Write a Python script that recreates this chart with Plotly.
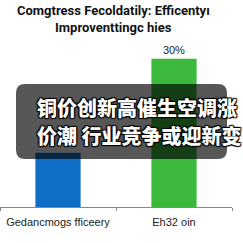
import plotly.graph_objects as go

categories = ["Gedancmogs fficeery", "Eh32 oin"]
values = [11, 30]
bar_labels = ["", "30%"]
bar_colors = ["#0f6fc6", "#3cb83c"]
title_lines = ["Comgtress Fecoldatily: Efficentyı", "Improventtingc hies"]
overlay_lines = ["铜价创新高催生空调涨", "价潮 行业竞争或迎新变"]

fig = go.Figure(go.Bar(
    x=categories, y=values, text=bar_labels, textposition="outside",
    marker=dict(color=bar_colors, line=dict(width=0)),
    textfont=dict(size=11, color="#222", family="Liberation Sans"),
    cliponaxis=False,
))

W, H = 243, 243
ml, mr, mt, mb = 0, 11, 45, 36
pw, ph = W - ml - mr, H - mt - mb

def px(x):
    return (x - ml) / pw

def py(y):
    return (H - mb - y) / ph

x0, x1, y0, y1, r = 16, 227, 84, 159, 9
X0, X1 = px(x0), px(x1)
Yt, Yb = py(y0), py(y1)
rx, ry = r / pw, r / ph
path = (f"M {X0+rx},{Yt} L {X1-rx},{Yt} Q {X1},{Yt} {X1},{Yt-ry} "
        f"L {X1},{Yb+ry} Q {X1},{Yb} {X1-rx},{Yb} L {X0+rx},{Yb} "
        f"Q {X0},{Yb} {X0},{Yb+ry} L {X0},{Yt-ry} Q {X0},{Yt} {X0+rx},{Yt} Z")

outline = "1px 1px 1px black, -1px -1px 1px black, 1px -1px 1px black, -1px 1px 1px black"
title_font = dict(size=13, color="#111", family="Roboto", weight="bold")

fig.update_layout(
    width=W, height=H,
    margin=dict(l=ml, r=mr, t=mt, b=mb),
    paper_bgcolor="white", plot_bgcolor="white",
    showlegend=False,
    bargap=0.61,
    xaxis=dict(showline=True, linecolor="#888", linewidth=1, ticks="outside",
               tickson="boundaries", ticklen=3, tickcolor="#888",
               ticklabelstandoff=5,
               tickfont=dict(size=11, color="#222", family="Liberation Sans"),
               showgrid=False),
    yaxis=dict(range=[0, 32.8], visible=False, showgrid=False),
    shapes=[dict(type="path", path=path, xref="paper", yref="paper",
                 fillcolor="rgba(0,0,0,0.66)", line=dict(width=0), layer="above")],
    annotations=[
        dict(text=title_lines[0], xref="paper", yref="paper",
             x=px(113), y=py(11), xanchor="center", yanchor="middle", showarrow=False,
             font=title_font),
        dict(text=title_lines[1], xref="paper", yref="paper",
             x=px(113), y=py(28), xanchor="center", yanchor="middle", showarrow=False,
             font=title_font),
        dict(text=overlay_lines[0], xref="paper", yref="paper",
             x=px(35), y=py(107), xanchor="left", yanchor="middle", showarrow=False,
             font=dict(size=20, color="white", family="Noto Sans CJK SC", weight=900, shadow=outline)),
        dict(text=overlay_lines[1], xref="paper", yref="paper",
             x=px(35), y=py(135), xanchor="left", yanchor="middle", showarrow=False,
             font=dict(size=20, color="white", family="Noto Sans CJK SC", weight=900, shadow=outline)),
    ],
)

fig.write_html("out.html")
